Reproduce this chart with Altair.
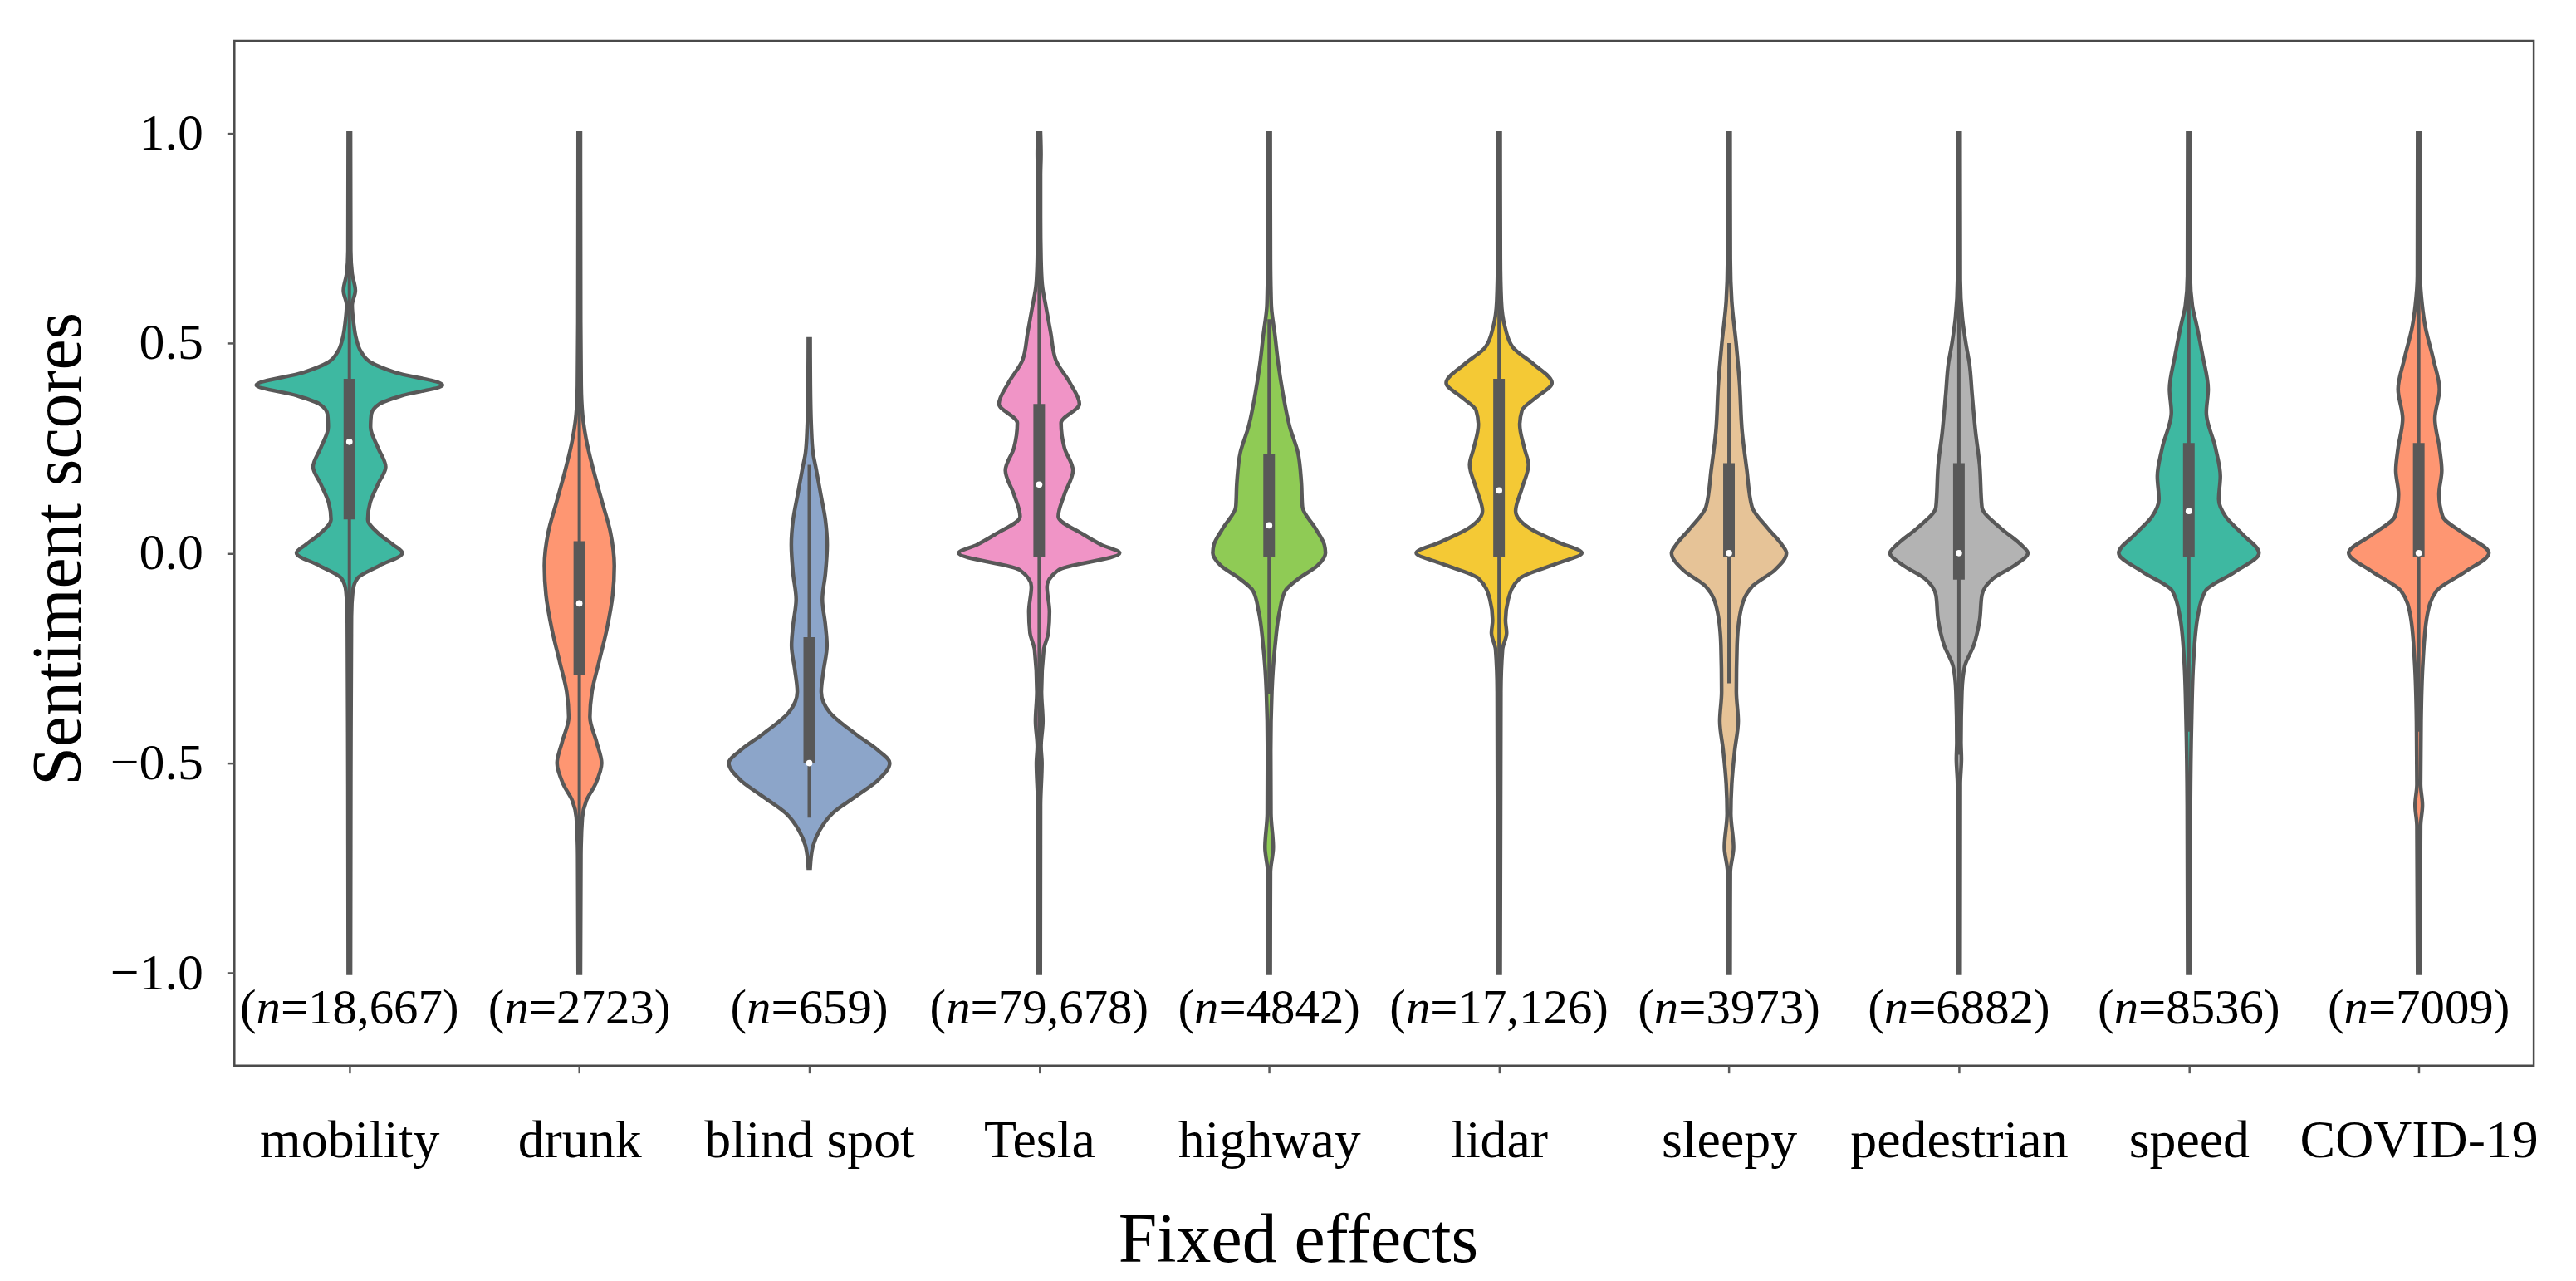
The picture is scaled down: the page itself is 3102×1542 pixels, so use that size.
import json
import pandas as pd
import altair as alt

categories = ["mobility", "drunk", "blind spot", "Tesla", "highway",
              "lidar", "sleepy", "pedestrian", "speed", "COVID-19"]
fill_colors = ["#3eb8a1", "#fe9672", "#8ca5c9", "#f094c6", "#8fcb55",
               "#f4c935", "#e6c397", "#b3b3b3", "#3eb8a1", "#fe9672"]
n_labels = ["18,667", "2723", "659", "79,678", "4842",
            "17,126", "3973", "6882", "8536", "7009"]

# violin outline knots: score value -> half width (category units)
mobility_y = [1.0, 0.72, 0.665, 0.625, 0.59, 0.55, 0.51, 0.48, 0.455, 0.43, 0.40, 0.375, 0.355, 0.33,
              0.30, 0.25, 0.205, 0.165, 0.12, 0.08, 0.045, 0.02, 0.0, -0.03, -0.06, -0.09, -0.15, -0.4, -1.0]
mobility_w = [0.005, 0.006, 0.012, 0.026, 0.012, 0.018, 0.03, 0.05, 0.09, 0.20, 0.405, 0.23, 0.13, 0.095,
              0.092, 0.125, 0.158, 0.125, 0.09, 0.08, 0.13, 0.19, 0.23, 0.13, 0.035, 0.015, 0.009, 0.007, 0.005]
drunk_y = [1.0, 0.55, 0.40, 0.33, 0.27, 0.2, 0.12, 0.05, -0.03, -0.1, -0.18, -0.26, -0.33, -0.39,
           -0.45, -0.5, -0.55, -0.59, -0.63, -0.72, -1.0]
drunk_w = [0.005, 0.006, 0.008, 0.014, 0.03, 0.06, 0.1, 0.135, 0.152, 0.145, 0.12, 0.085, 0.055, 0.046,
           0.075, 0.097, 0.07, 0.03, 0.013, 0.007, 0.005]
blind_y = [0.51, 0.40, 0.30, 0.24, 0.20, 0.14, 0.08, 0.02, -0.05, -0.11, -0.17, -0.22, -0.28, -0.33,
           -0.38, -0.43, -0.47, -0.50, -0.54, -0.58, -0.62, -0.66, -0.70, -0.75]
blind_w = [0.004, 0.005, 0.009, 0.016, 0.03, 0.05, 0.07, 0.078, 0.07, 0.057, 0.07, 0.077, 0.062, 0.052,
           0.09, 0.2, 0.3, 0.35, 0.3, 0.2, 0.1, 0.045, 0.015, 0.004]
tesla_y = [1.0, 0.95, 0.9, 0.8, 0.7, 0.64, 0.585, 0.525, 0.46, 0.405, 0.355, 0.31, 0.25, 0.197, 0.14,
           0.087, 0.045, 0.02, 0.0, -0.04, -0.08, -0.14, -0.19, -0.23, -0.33, -0.40, -0.46, -0.5, -0.6, -1.0]
tesla_w = [0.006, 0.008, 0.006, 0.006, 0.008, 0.013, 0.03, 0.05, 0.072, 0.134, 0.175, 0.095, 0.11, 0.147,
           0.11, 0.083, 0.19, 0.27, 0.35, 0.085, 0.034, 0.045, 0.04, 0.02, 0.01, 0.016, 0.008, 0.012, 0.006, 0.005]
highway_y = [1.0, 0.7, 0.62, 0.585, 0.52, 0.45, 0.38, 0.30, 0.24, 0.17, 0.11, 0.06, 0.02, 0.0, -0.03,
             -0.06, -0.09, -0.14, -0.22, -0.33, -0.47, -0.62, -0.70, -0.76, -1.0]
highway_w = [0.005, 0.006, 0.008, 0.01, 0.025, 0.04, 0.06, 0.09, 0.125, 0.14, 0.145, 0.2, 0.24, 0.245, 0.21,
             0.13, 0.07, 0.045, 0.026, 0.012, 0.007, 0.008, 0.018, 0.006, 0.005]
lidar_y = [1.0, 0.7, 0.6, 0.54, 0.49, 0.45, 0.405, 0.37, 0.34, 0.305, 0.25, 0.21, 0.155, 0.10, 0.06,
           0.025, 0.0, -0.025, -0.06, -0.11, -0.16, -0.19, -0.23, -0.33, -1.0]
lidar_w = [0.005, 0.006, 0.01, 0.025, 0.06, 0.15, 0.23, 0.16, 0.1, 0.09, 0.11, 0.128, 0.1, 0.072, 0.13,
           0.26, 0.36, 0.25, 0.09, 0.04, 0.028, 0.033, 0.015, 0.008, 0.005]
sleepy_y = [1.0, 0.7, 0.6, 0.5, 0.405, 0.29, 0.2, 0.11, 0.06, 0.02, 0.0, -0.04, -0.08, -0.14, -0.22,
            -0.33, -0.40, -0.47, -0.55, -0.62, -0.70, -0.76, -1.0]
sleepy_w = [0.005, 0.006, 0.012, 0.031, 0.046, 0.057, 0.077, 0.1, 0.167, 0.23, 0.25, 0.2, 0.1, 0.05, 0.035,
            0.032, 0.04, 0.025, 0.012, 0.008, 0.02, 0.006, 0.005]
pedestrian_y = [1.0, 0.65, 0.56, 0.5, 0.45, 0.38, 0.29, 0.21, 0.11, 0.06, 0.02, 0.0, -0.03, -0.06, -0.1,
                -0.16, -0.22, -0.27, -0.33, -0.45, -0.49, -0.55, -1.0]
pedestrian_w = [0.005, 0.006, 0.015, 0.03, 0.046, 0.057, 0.072, 0.09, 0.1, 0.18, 0.27, 0.30, 0.24, 0.15, 0.1,
                0.09, 0.064, 0.025, 0.013, 0.009, 0.011, 0.006, 0.005]
speed_y = [1.0, 0.66, 0.59, 0.54, 0.47, 0.39, 0.335, 0.25, 0.183, 0.128, 0.087, 0.045, 0.0, -0.045, -0.09,
           -0.15, -0.26, -0.4, -0.6, -1.0]
speed_w = [0.005, 0.006, 0.015, 0.035, 0.06, 0.084, 0.076, 0.116, 0.137, 0.13, 0.16, 0.233, 0.305, 0.2, 0.072,
           0.039, 0.02, 0.012, 0.007, 0.005]
covid_y = [1.0, 0.66, 0.59, 0.54, 0.46, 0.39, 0.32, 0.25, 0.197, 0.14, 0.087, 0.045, 0.0, -0.045, -0.09,
           -0.15, -0.26, -0.4, -0.55, -0.6, -0.65, -1.0]
covid_w = [0.005, 0.006, 0.015, 0.028, 0.064, 0.09, 0.07, 0.09, 0.1, 0.088, 0.104, 0.2, 0.305, 0.2, 0.077,
           0.036, 0.018, 0.01, 0.008, 0.016, 0.008, 0.005]

violin_y = [mobility_y, drunk_y, blind_y, tesla_y, highway_y, lidar_y, sleepy_y, pedestrian_y, speed_y, covid_y]
violin_w = [mobility_w, drunk_w, blind_w, tesla_w, highway_w, lidar_w, sleepy_w, pedestrian_w, speed_w, covid_w]

# inner box plot values
q1 = [0.08, -0.29, -0.5, -0.01, -0.01, -0.01, -0.01, -0.063, -0.01, -0.01]
q3 = [0.415, 0.028, -0.2, 0.355, 0.236, 0.415, 0.214, 0.214, 0.262, 0.262]
medians = [0.265, -0.12, -0.5, 0.163, 0.066, 0.149, 0.0, 0.0, 0.10, 0.0]
whisker_lo = [-0.41, -0.77, -0.63, -0.565, -0.335, -0.655, -0.31, -0.48, -0.425, -0.425]
whisker_hi = [0.9, 0.5, 0.21, 0.91, 0.557, 1.0, 0.5, 0.63, 0.675, 0.675]

N_LABEL_Y = -1.12
FONT = "Liberation Serif"
N_FS = 59
PLOT_W = 2776
PLOT_H = 1237
OUTLINE = "#585858"
PX_PER_UNIT = PLOT_W / 10

rows = []
for i, (ys, ws) in enumerate(zip(violin_y, violin_w)):
    for y, w in zip(ys, ws):
        rows.append({"cat": categories[i], "idx": i, "v": y, "lo": i - w, "hi": i + w})
vdf = pd.DataFrame(rows).sort_values(["idx", "v"]).reset_index(drop=True)

bdf = pd.DataFrame({"cat": categories, "idx": list(range(len(categories))),
                    "q1": q1, "q3": q3, "med": medians, "wlo": whisker_lo, "whi": whisker_hi})

# n labels: "(" + italic "n" + "=value)", placed side by side around each category centre
cw = {"(": 0.333, ")": 0.333, "=": 0.564, ",": 0.25}
txt_rows = []
for i, lab in enumerate(n_labels):
    full = "(n=" + lab + ")"
    width = sum(cw.get(c, 0.5) for c in full) * N_FS
    left = -width / 2
    txt_rows.append({"idx": i, "y": N_LABEL_Y,
                     "px": i + (left + 0.333 * N_FS) / PX_PER_UNIT, "p": "(",
                     "nx": i + (left + 0.333 * N_FS) / PX_PER_UNIT, "n": "n",
                     "rx": i + (left + 0.833 * N_FS) / PX_PER_UNIT, "r": "=" + lab + ")"})
tdf = pd.DataFrame(txt_rows)

xscale = alt.Scale(domain=[-0.5, 9.5], nice=False, zero=False)
yscale = alt.Scale(domain=[-1.22, 1.22], nice=False, zero=False)
cat_expr = json.dumps(categories) + "[datum.value]"

xaxis = alt.Axis(values=list(range(10)), labelExpr=cat_expr, title="Fixed effects",
                 labelFont=FONT, labelFontSize=64, labelColor="black", labelBaseline="alphabetic",
                 labelPadding=101, labelFlush=False, labelOverlap=False, labelBound=False, labelLimit=1000,
                 tickColor=OUTLINE, tickWidth=2.5, tickSize=9, domain=False, grid=False,
                 titleFont=FONT, titleFontSize=84, titleFontWeight="normal", titleColor="black",
                 titleX=1284, titleY=236, titleBaseline="alphabetic", titleAlign="center")
yaxis = alt.Axis(values=[-1.0, -0.5, 0.0, 0.5, 1.0], format=".1f", title="Sentiment scores",
                 labelFont=FONT, labelFontSize=62, labelColor="black", labelPadding=29,
                 tickColor=OUTLINE, tickWidth=2.5, tickSize=9, domain=False, grid=False,
                 titleFont=FONT, titleFontSize=84, titleFontWeight="normal", titleColor="black",
                 titleX=-186, titleY=613, titleAngle=270, titleBaseline="alphabetic", titleAlign="center")

violins = alt.Chart(vdf).mark_area(orient="horizontal", interpolate="monotone",
                                   stroke=OUTLINE, strokeWidth=4.5, opacity=1, fillOpacity=1).encode(
    y=alt.Y("v:Q", scale=yscale, axis=yaxis),
    x=alt.X("lo:Q", scale=xscale, axis=xaxis, stack=None),
    x2="hi:Q",
    color=alt.Color("cat:N", scale=alt.Scale(domain=categories, range=fill_colors), legend=None),
)

whiskers = alt.Chart(bdf).mark_rule(color=OUTLINE, strokeWidth=4).encode(
    x=alt.X("idx:Q", scale=xscale), y=alt.Y("wlo:Q", scale=yscale), y2="whi:Q")
boxes = alt.Chart(bdf).mark_rule(color=OUTLINE, strokeWidth=14).encode(
    x=alt.X("idx:Q", scale=xscale), y=alt.Y("q1:Q", scale=yscale), y2="q3:Q")
meds = alt.Chart(bdf).mark_circle(color="white", size=60, opacity=1).encode(
    x=alt.X("idx:Q", scale=xscale), y=alt.Y("med:Q", scale=yscale))

paren = alt.Chart(tdf).mark_text(font=FONT, fontSize=N_FS, color="black", align="right",
                                 baseline="alphabetic").encode(
    x=alt.X("px:Q", scale=xscale), y=alt.Y("y:Q", scale=yscale), text="p:N")
nital = alt.Chart(tdf).mark_text(font=FONT, fontSize=N_FS, fontStyle="italic", color="black",
                                 align="left", baseline="alphabetic").encode(
    x=alt.X("nx:Q", scale=xscale), y=alt.Y("y:Q", scale=yscale), text="n:N")
rest = alt.Chart(tdf).mark_text(font=FONT, fontSize=N_FS, color="black", align="left",
                                baseline="alphabetic").encode(
    x=alt.X("rx:Q", scale=xscale), y=alt.Y("y:Q", scale=yscale), text="r:N")

chart = alt.layer(violins, whiskers, boxes, meds, paren, nital, rest).properties(
    width=PLOT_W, height=PLOT_H,
    padding={"left": 275, "top": 39, "right": 43, "bottom": 258},
    autosize=alt.AutoSizeParams(type="none"),
    background="white",
).configure_view(stroke="#4a4a4a", strokeWidth=2.5)

chart.save("out.html", embed_options={"renderer": "svg", "actions": False})
